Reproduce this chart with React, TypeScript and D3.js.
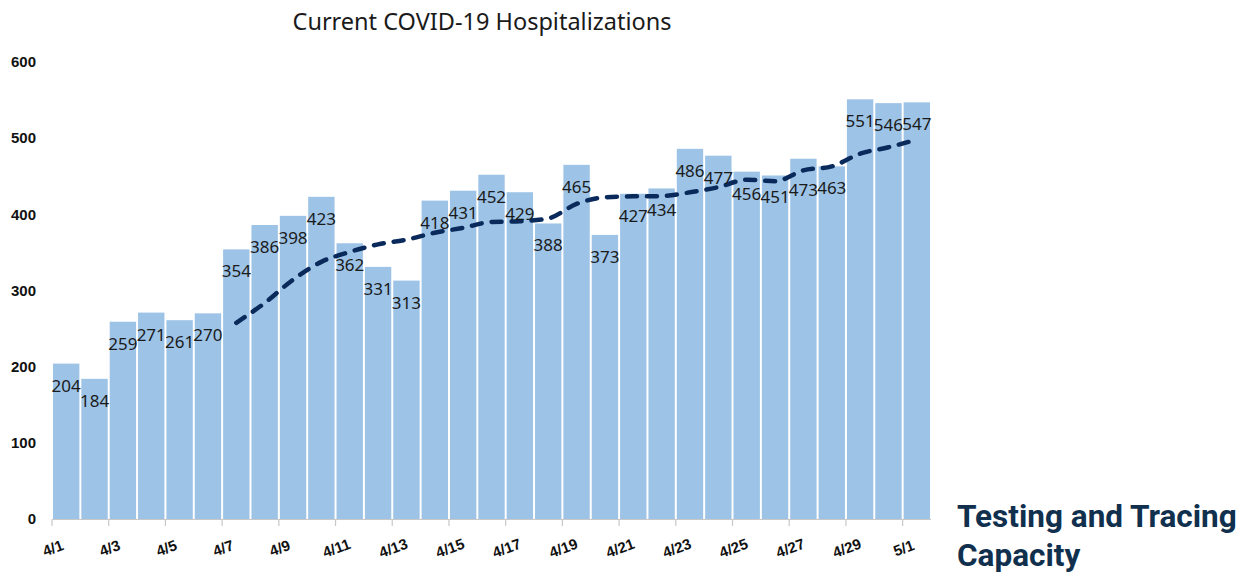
import { useEffect, useRef } from 'react';
import * as d3 from 'd3';

const dates = [
  '4/1', '4/2', '4/3', '4/4', '4/5', '4/6', '4/7', '4/8', '4/9', '4/10',
  '4/11', '4/12', '4/13', '4/14', '4/15', '4/16', '4/17', '4/18', '4/19', '4/20',
  '4/21', '4/22', '4/23', '4/24', '4/25', '4/26', '4/27', '4/28', '4/29', '4/30', '5/1',
];

const hospitalized = [
  204, 184, 259, 271, 261, 270, 354, 386, 398, 423,
  362, 331, 313, 418, 431, 452, 429, 388, 465, 373,
  427, 434, 486, 477, 456, 451, 473, 463, 551, 546, 547,
];

// 7-day average trend (starts on 4/7)
const trendDates = dates.slice(6);
const trendValues = [
  257.6, 283.6, 314.1, 337.6, 350.6, 360.6, 366.7, 375.9, 382.3, 390.0,
  390.9, 394.6, 413.7, 422.3, 423.6, 424.0, 428.9, 435.7, 445.4, 443.4,
  457.7, 462.9, 479.6, 488.1, 498.1,
];

const yTicks = [0, 100, 200, 300, 400, 500, 600];
const xTickLabels = dates.filter((_, i) => i % 2 === 0);

// manual label nudges, as in the original slide
const labelNudge: Record<string, number> = { '4/27': 9 };

const W = 1243;
const H = 576;

export default function App() {
  const svgRef = useRef<SVGSVGElement>(null);

  useEffect(() => {
    if (!svgRef.current) return;
    const svg = d3.select(svgRef.current);
    svg.selectAll('*').remove();

    const x = d3.scaleBand<string>()
      .domain(dates)
      .range([52, 931])
      .paddingInner(0.07)
      .paddingOuter(0.035);

    const step = x.step();
    const left = (d: string) => 52 + dates.indexOf(d) * step;

    const y = d3.scaleLinear().domain([0, 600]).range([519, 62]);

    // title
    svg.append('text')
      .attr('x', 482)
      .attr('y', 30)
      .attr('text-anchor', 'middle')
      .attr('font-family', '"Noto Sans", sans-serif')
      .attr('font-size', 23.5)
      .attr('fill', '#1a1a1a')
      .text('Current COVID-19 Hospitalizations');

    // y labels
    svg.append('g')
      .selectAll('text')
      .data(yTicks)
      .enter().append('text')
      .attr('x', 36)
      .attr('y', d => y(d))
      .attr('dy', '0.35em')
      .attr('text-anchor', 'end')
      .attr('font-family', '"Liberation Sans", Arial, sans-serif')
      .attr('font-weight', 'bold')
      .attr('font-size', 15)
      .attr('fill', '#111')
      .text(d => d);

    // bars
    svg.append('g')
      .selectAll('rect')
      .data(hospitalized)
      .enter().append('rect')
      .attr('x', (_, i) => x(dates[i])!)
      .attr('width', x.bandwidth())
      .attr('y', d => y(d))
      .attr('height', d => y(0) - y(d))
      .attr('fill', '#9dc3e6');

    // x axis line and ticks
    const ax = svg.append('g');
    ax.append('line')
      .attr('x1', 52).attr('x2', 931)
      .attr('y1', 519.5).attr('y2', 519.5)
      .attr('stroke', '#c8c8c8')
      .attr('stroke-width', 1.2);
    ax.selectAll('line.tick')
      .data(xTickLabels)
      .enter().append('line')
      .attr('class', 'tick')
      .attr('x1', d => left(d)).attr('x2', d => left(d))
      .attr('y1', 519.5).attr('y2', 526)
      .attr('stroke', '#c8c8c8')
      .attr('stroke-width', 1.2);
    ax.selectAll('text')
      .data(xTickLabels)
      .enter().append('text')
      .attr('transform', d => `translate(${left(d) + 1},${548}) rotate(-20)`)
      .attr('dy', '0.35em')
      .attr('text-anchor', 'middle')
      .attr('font-family', '"Liberation Sans", Arial, sans-serif')
      .attr('font-weight', 'bold')
      .attr('font-size', 15)
      .attr('fill', '#111')
      .text(d => d);

    // trend line
    const line = d3.line<number>()
      .x((_, i) => x(trendDates[i])! + x.bandwidth() / 2)
      .y(d => y(d))
      .curve(d3.curveMonotoneX);

    svg.append('path')
      .datum(trendValues)
      .attr('fill', 'none')
      .attr('stroke', '#0b2a5c')
      .attr('stroke-width', 4.5)
      .attr('stroke-linecap', 'round')
      .attr('stroke-dasharray', '10,10')
      .attr('d', line);

    // value labels (inside end)
    svg.append('g')
      .selectAll('text')
      .data(hospitalized)
      .enter().append('text')
      .attr('x', (_, i) => x(dates[i])! + x.bandwidth() / 2)
      .attr('y', (d, i) => y(d) + 22 + (labelNudge[dates[i]] ?? 0))
      .attr('dy', '0.35em')
      .attr('text-anchor', 'middle')
      .attr('font-family', '"Noto Sans", sans-serif')
      .attr('font-size', 17)
      .attr('fill', '#1a1a1a')
      .text(d => d);

    // side heading
    const side = svg.append('text')
      .attr('font-family', 'Roboto, "Noto Sans", sans-serif')
      .attr('font-weight', 'bold')
      .attr('font-size', 31.5)
      .attr('fill', '#10304e');
    side.append('tspan').attr('x', 957).attr('y', 527).text('Testing and Tracing');
    side.append('tspan').attr('x', 957).attr('y', 566).text('Capacity');
  }, []);

  return (
    <div style={{ position: 'absolute', left: 0, top: 0, background: '#fff' }}>
      <svg ref={svgRef} width={W} height={H} style={{ display: 'block' }} />
    </div>
  );
}
